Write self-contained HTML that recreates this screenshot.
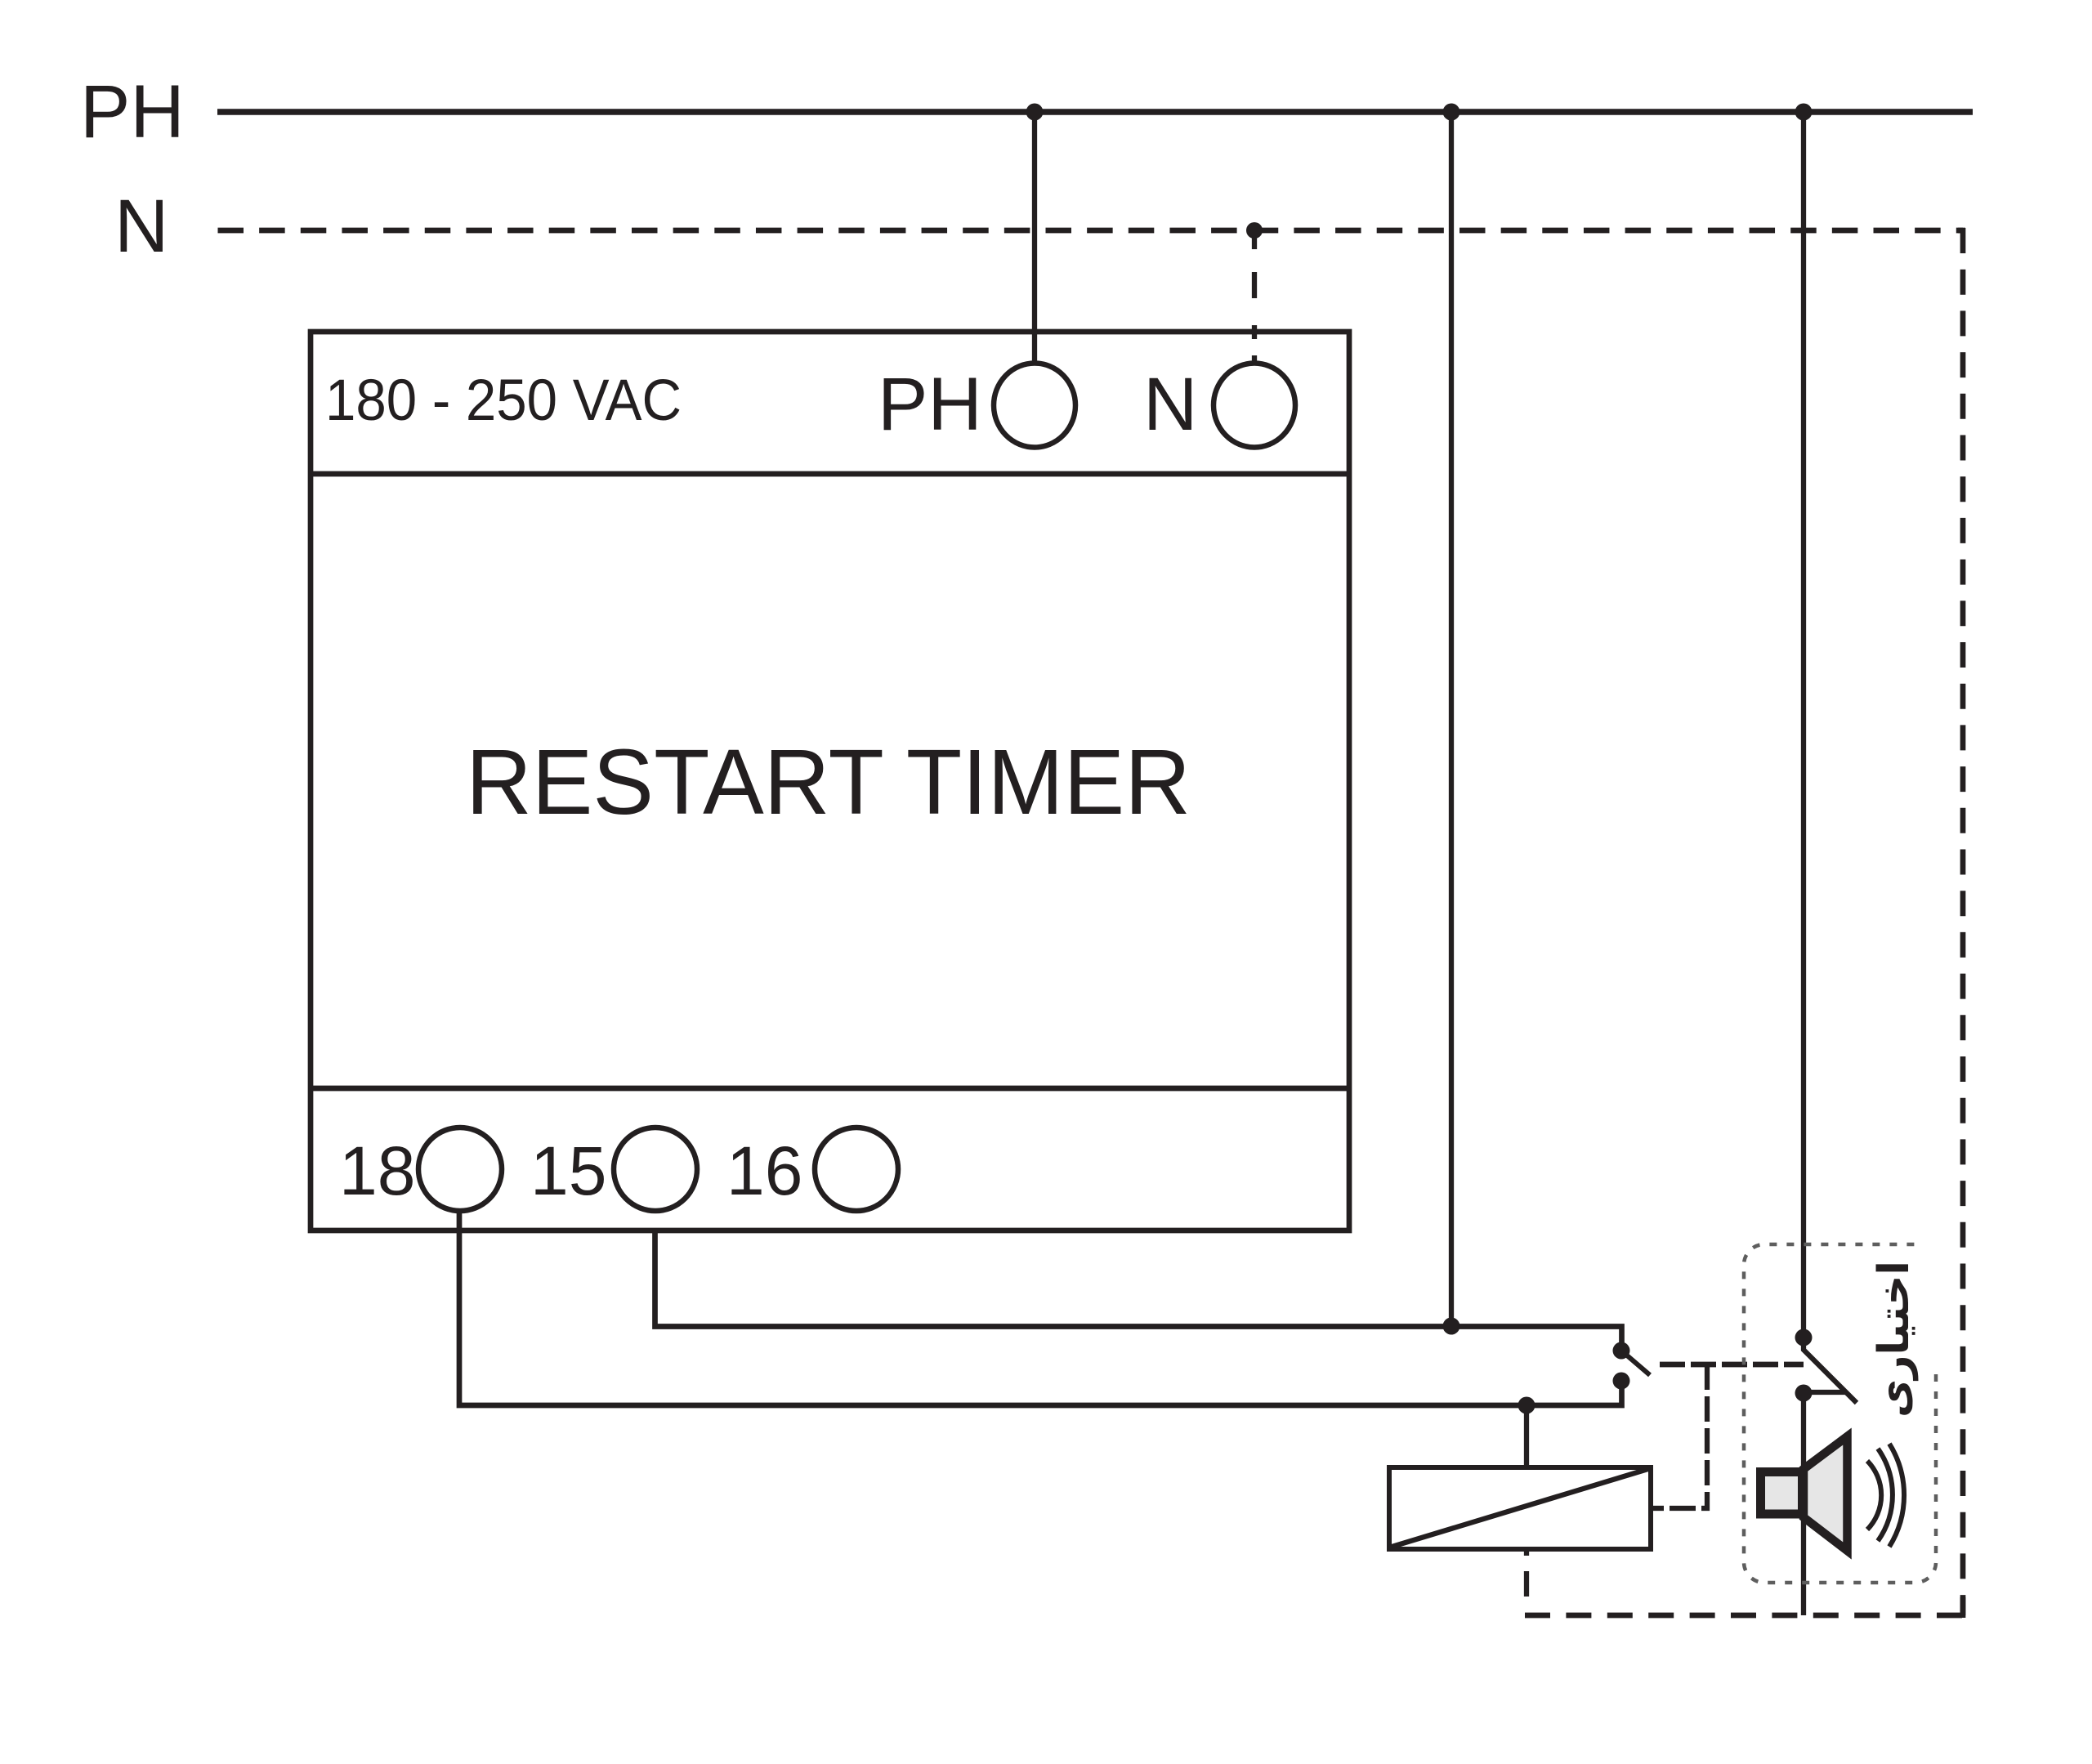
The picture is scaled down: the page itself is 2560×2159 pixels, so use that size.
<!DOCTYPE html>
<html>
<head>
<meta charset="utf-8">
<style>
html,body{margin:0;padding:0;background:#fff;}
svg{display:block;}
text{font-family:"Liberation Sans",Arial,sans-serif;fill:#231f20;}
</style>
</head>
<body>
<svg width="2560" height="2159" viewBox="0 0 2560 2159" xmlns="http://www.w3.org/2000/svg">
<rect x="0" y="0" width="2560" height="2159" fill="#fff"/>
<g stroke="#231f20" fill="none">
  <!-- Main PH line -->
  <line x1="266" y1="137" x2="2414" y2="137" stroke-width="7.5"/>
  <!-- Main N dashed line -->
  <line x1="266.5" y1="282" x2="2402" y2="282" stroke-width="6.7" stroke-dasharray="31.5 19.15"/>
  <line x1="2396" y1="282" x2="2405" y2="282" stroke-width="6.7"/>
  <!-- N right vertical -->
  <line x1="2402" y1="279" x2="2402" y2="1977" stroke-width="6.7" stroke-dasharray="31 19.7"/>
  <!-- bottom N dashed -->
  <line x1="1866" y1="1977" x2="2405" y2="1977" stroke-width="6.7" stroke-dasharray="31 19.4"/>
  <line x1="2402" y1="1955" x2="2402" y2="1980" stroke-width="6.7"/>

  <!-- Timer box -->
  <rect x="380" y="406" width="1271" height="1100" stroke-width="6.7"/>
  <line x1="380" y1="580" x2="1651" y2="580" stroke-width="6.7"/>
  <line x1="380" y1="1332" x2="1651" y2="1332" stroke-width="6.7"/>

  <!-- Terminals top -->
  <ellipse cx="1266" cy="496" rx="50" ry="51.5" stroke-width="6.5"/>
  <ellipse cx="1535" cy="496" rx="50" ry="51.5" stroke-width="6.5"/>
  <!-- Terminals bottom -->
  <ellipse cx="563" cy="1431" rx="51" ry="51" stroke-width="6.5"/>
  <ellipse cx="802" cy="1431" rx="51" ry="51" stroke-width="6.5"/>
  <ellipse cx="1048" cy="1431" rx="51" ry="51" stroke-width="6.5"/>

  <!-- PH to terminal -->
  <line x1="1266" y1="137" x2="1266" y2="445" stroke-width="6.3"/>
  <!-- N to terminal (dashed segments) -->
  <line x1="1535" y1="282" x2="1535" y2="305" stroke-width="6.3"/>
  <line x1="1535" y1="333" x2="1535" y2="365" stroke-width="6.3"/>
  <line x1="1535" y1="398" x2="1535" y2="415" stroke-width="6.3"/>
  <line x1="1535" y1="435" x2="1535" y2="446" stroke-width="6.3"/>

  <!-- PH vertical 2 -->
  <line x1="1776" y1="137" x2="1776" y2="1623" stroke-width="6.3"/>
  <!-- PH vertical 3 (speaker) -->
  <path d="M2207,137 V1652 L2272,1717" stroke-width="6.3"/>
  <line x1="2207" y1="1704" x2="2258" y2="1704" stroke-width="6.3"/>
  <line x1="2207" y1="1705" x2="2207" y2="1977" stroke-width="6.3"/>

  <!-- wire from 15 -->
  <path d="M801.5,1506 V1623.5 H1984.5 V1653" stroke-width="6.7" stroke-linejoin="miter"/>
  <!-- wire from 18 -->
  <path d="M562,1482 V1720 H1984.5 V1690" stroke-width="6.7" stroke-linejoin="miter"/>

  <!-- relay switch blade -->
  <line x1="1984" y1="1653" x2="2019" y2="1683" stroke-width="6"/>

  <!-- relay coil -->
  <line x1="1868" y1="1720" x2="1868" y2="1796" stroke-width="6.3"/>
  <rect x="1700" y="1796" width="320" height="100" stroke-width="6"/>
  <line x1="1700" y1="1894" x2="2020" y2="1797" stroke-width="6.3"/>

  <!-- relay bottom dashed to N -->
  <line x1="1868" y1="1898" x2="1868" y2="1904" stroke-width="6.3"/>
  <line x1="1868" y1="1923" x2="1868" y2="1954" stroke-width="6.3"/>

  <!-- mechanical link dashed -->
  <line x1="2020" y1="1846" x2="2036" y2="1846" stroke-width="6.3"/>
  <line x1="2043" y1="1846" x2="2075" y2="1846" stroke-width="6.3"/>
  <line x1="2082" y1="1846" x2="2092" y2="1846" stroke-width="6.3"/>
  <line x1="2089" y1="1670" x2="2089" y2="1849" stroke-width="6.3" stroke-dasharray="31 8"/>
  <line x1="2031" y1="1670" x2="2207" y2="1670" stroke-width="6.7" stroke-dasharray="31 7"/>

  <!-- optional dotted frame -->
  <path d="M2369,1682 V1912 A25,25 0 0 1 2344,1937 H2159 A25,25 0 0 1 2134,1912 V1548 A25,25 0 0 1 2159,1523 H2343" stroke="#5e5e5e" stroke-width="4.5" stroke-dasharray="9 12"/>

  <!-- speaker -->
  <rect x="2154.5" y="1801.5" width="51" height="51.5" stroke-width="11" fill="#e6e6e6"/>
  <polygon points="2207,1798 2260.5,1758 2260.5,1898 2207,1857" stroke-width="10.5" fill="#e6e6e6" stroke-linejoin="miter"/>
  <path d="M2285,1788 A60,60 0 0 1 2285,1872" stroke-width="6"/>
  <path d="M2298,1773 A98,98 0 0 1 2298,1886" stroke-width="6"/>
  <path d="M2312,1767 A119,119 0 0 1 2312,1893" stroke-width="6"/>
</g>

<!-- junction dots -->
<g fill="#231f20">
  <circle cx="1266" cy="137" r="10.5"/>
  <circle cx="1776" cy="137" r="10.5"/>
  <circle cx="2207" cy="137" r="10.5"/>
  <circle cx="1535" cy="282" r="10"/>
  <circle cx="1776" cy="1623" r="10.5"/>
  <circle cx="1868" cy="1720" r="10.5"/>
  <circle cx="1984" cy="1653" r="10.5"/>
  <circle cx="1984" cy="1690" r="10.5"/>
  <circle cx="2207" cy="1637" r="10.5"/>
  <circle cx="2207" cy="1705" r="10.5"/>
</g>

<!-- labels -->
<text x="98" y="168" font-size="92">PH</text>
<text x="140" y="308" font-size="92">N</text>
<text x="398" y="514" font-size="71" textLength="436" lengthAdjust="spacingAndGlyphs">180 - 250 VAC</text>
<text x="1074" y="526" font-size="92">PH</text>
<text x="1399" y="526" font-size="92">N</text>
<text x="570" y="996" font-size="113" textLength="887" lengthAdjust="spacingAndGlyphs">RESTART TIMER</text>
<text x="415" y="1462" font-size="84">18</text>
<text x="649" y="1462" font-size="84">15</text>
<text x="889" y="1462" font-size="84">16</text>
<text transform="translate(2335,1639) rotate(-90)" font-size="52" font-weight="bold" text-anchor="middle" textLength="192" lengthAdjust="spacingAndGlyphs" style="font-family:'DejaVu Sans',sans-serif;font-weight:bold">اختیاری</text>
</svg>
</body>
</html>
